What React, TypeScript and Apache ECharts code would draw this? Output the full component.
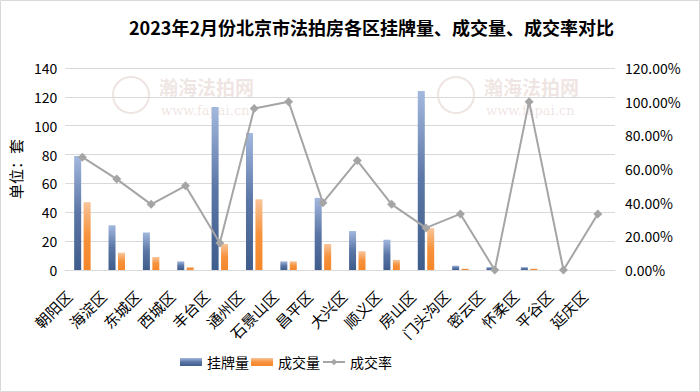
import React, { useEffect, useRef } from "react";
import * as echarts from "echarts";

const categories = ["朝阳区", "海淀区", "东城区", "西城区", "丰台区", "通州区", "石景山区", "昌平区", "大兴区", "顺义区", "房山区", "门头沟区", "密云区", "怀柔区", "平谷区", "延庆区"];
const listed = [79, 31, 26, 6, 113, 95, 6, 50, 27, 21, 124, 3, 2, 2, 0, 0];
const dealt = [47, 12, 9, 2, 18, 49, 6, 18, 13, 7, 29, 1, 0, 1, 0, 0];
const rate = [0.67, 0.54, 0.39, 0.5, 0.16, 0.96, 1.0, 0.4, 0.65, 0.39, 0.25, 0.333, 0, 1.0, 0, 0.333];
const leftTicks = { min: 0, max: 140, interval: 20 };
const rightTicks = { min: 0, max: 1.2, interval: 0.2 };

const FONT = "'Noto Sans CJK SC', 'Noto Sans', sans-serif";

export default function App() {
  const ref = useRef<HTMLDivElement>(null);
  useEffect(() => {
    if (!ref.current) return;
    const chart = echarts.init(ref.current, null, { renderer: "svg" });
    const wmColor = "rgba(200,165,155,0.3)";
    const wm = (x: number, y: number) => [
      { type: "ring", z: -1, shape: { cx: x - 28, cy: y + 18, r: 19, r0: 17 }, style: { fill: wmColor } },
      { type: "text", left: x, top: y, z: -1, style: { text: "瀚海法拍网", fill: wmColor, font: "bold 19px 'Noto Sans CJK SC'" } },
      { type: "text", left: x + 2, top: y + 27, z: -1, style: { text: "www.fapai.cn", fill: wmColor, font: "13px 'DejaVu Serif'" } },
    ];
    chart.setOption({
      animation: false,
      backgroundColor: "#ffffff",
      textStyle: { fontFamily: FONT },
      title: {
        text: "2023年2月份北京市法拍房各区挂牌量、成交量、成交率对比",
        left: 124,
        top: 13,
        textStyle: { fontSize: 18, fontWeight: "bold", color: "#000", fontFamily: FONT },
      },
      graphic: [
        { type: "rect", shape: { x: 0.5, y: 0.5, width: 699, height: 391 }, style: { fill: "none", stroke: "#d9d9d9", lineWidth: 1 }, z: -2 },
        ...wm(159, 77),
        ...wm(484, 77),
      ],
      legend: {
        left: 175,
        top: 350,
        itemGap: 2,
        itemWidth: 22,
        itemHeight: 8,
        textStyle: { fontSize: 14, color: "#000", fontFamily: FONT },
        data: [
          { name: "挂牌量", icon: "rect" },
          { name: "成交量", icon: "rect" },
          { name: "成交率" },
        ],
      },
      grid: { left: 60, right: 85, top: 68, bottom: 122, containLabel: false },
      xAxis: {
        type: "category",
        data: categories,
        axisLine: { lineStyle: { color: "#d9d9d9" } },
        axisTick: { show: false },
        axisLabel: { rotate: 45, fontSize: 15, color: "#000", margin: 10, padding: [0, 19, 0, 0], interval: 0, fontFamily: FONT },
      },
      yAxis: [
        {
          type: "value",
          ...leftTicks,
          name: "单位：套",
          nameLocation: "middle",
          nameGap: 40,
          nameTextStyle: { fontSize: 15, color: "#000", fontFamily: FONT },
          axisLabel: { fontSize: 14, color: "#000", margin: 8 },
          splitLine: { lineStyle: { color: "#d9d9d9" } },
          axisLine: { show: false },
          axisTick: { show: false },
        },
        {
          type: "value",
          ...rightTicks,
          axisLabel: { fontSize: 14, color: "#000", margin: 10, formatter: (v: number) => (v * 100).toFixed(2) + "%" },
          splitLine: { show: false },
          axisLine: { show: false },
          axisTick: { show: false },
        },
      ],
      series: [
        {
          name: "挂牌量",
          type: "bar",
          data: listed,
          barWidth: 7,
          barGap: "35%",
          itemStyle: {
            color: new echarts.graphic.LinearGradient(0, 0, 0, 1, [
              { offset: 0, color: "#a3b8de" },
              { offset: 0.5, color: "#5a76a6" },
              { offset: 1, color: "#3f5d8c" },
            ]),
          },
        },
        {
          name: "成交量",
          type: "bar",
          data: dealt,
          barWidth: 7,
          itemStyle: {
            color: new echarts.graphic.LinearGradient(0, 0, 0, 1, [
              { offset: 0, color: "#f8c49a" },
              { offset: 0.5, color: "#f6923c" },
              { offset: 1, color: "#f5862a" },
            ]),
          },
        },
        {
          name: "成交率",
          type: "line",
          yAxisIndex: 1,
          data: rate,
          symbol: "diamond",
          symbolSize: 9,
          lineStyle: { color: "#a5a5a5", width: 2 },
          itemStyle: { color: "#a5a5a5" },
        },
      ],
    });
    return () => chart.dispose();
  }, []);
  return <div ref={ref} style={{ width: 700, height: 392, position: "absolute", left: 0, top: 0 }} />;
}
